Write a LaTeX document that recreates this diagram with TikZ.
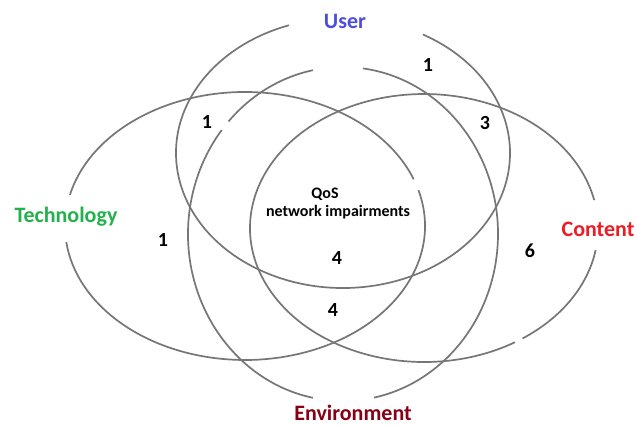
\documentclass[tikz,border=0pt]{standalone}
\usepackage{fontspec}
\setmainfont{Carlito}
\definecolor{ringgray}{RGB}{118,118,118}
\definecolor{userblue}{RGB}{78,78,218}
\definecolor{techgreen}{RGB}{34,177,76}
\definecolor{contentred}{RGB}{237,28,36}
\definecolor{envred}{RGB}{136,0,21}
\begin{document}
\begin{tikzpicture}[x=1pt,y=-1pt,
  ring/.style={draw=ringgray,line width=1.7pt},
  setlabel/.style={font=\fontsize{22}{26}\selectfont\bfseries,inner sep=0pt,anchor=base},
  count/.style={font=\fontsize{20}{24}\selectfont\bfseries,inner sep=0pt,text=black},
  core/.style={font=\fontsize{16}{19}\selectfont\bfseries,inner sep=0pt,anchor=base,text=black}]
\useasboundingbox (0,0) rectangle (637,424);
\fill[white] (0,0) rectangle (637,424);

% User ring (open at the top)
\draw[ring] (343,153) ++(-61.4:167 and 135)
  arc[start angle=-61.4,end angle=251.1,x radius=167,y radius=135];

% Environment ring (open at top and bottom)
\draw[ring] (343,234) ++(-82.6:155 and 167)
  arc[start angle=-82.6,end angle=78.5,x radius=155,y radius=167];
\draw[ring] (343,234) ++(101.2:155 and 167)
  arc[start angle=101.2,end angle=218.5,x radius=155,y radius=167];
\draw[ring] (343,234) ++(222.4:155 and 167)
  arc[start angle=222.4,end angle=258.8,x radius=155,y radius=167];

% Technology ring (open on the left)
\draw[ring] (245,226) ++(-15.5:180 and 134)
  arc[start angle=-15.5,end angle=173.1,x radius=180,y radius=134];
\draw[ring] (245,226) ++(193.4:180 and 134)
  arc[start angle=193.4,end angle=339.6,x radius=180,y radius=134];

% Content ring (open on the right)
\draw[ring] (424,228) ++(9.5:174 and 134)
  arc[start angle=9.5,end angle=55.5,x radius=174,y radius=134];
\draw[ring] (424,228) ++(58.5:174 and 134)
  arc[start angle=58.5,end angle=348,x radius=174,y radius=134];

% Set names
\node[setlabel,text=userblue] (user) at (345,28) {User};
\node[setlabel,text=techgreen] (tech) at (66,222) {Technology};
\node[setlabel,text=contentred] (content) at (598,236) {Content};
\node[setlabel,text=envred] (env) at (353,420) {Environment};

% Core
\node[core] (qos) at (325,198) {QoS};
\node[core] (impair) at (338,216) {network impairments};

% Counts per region
\node[count] (nUser) at (428,65) {1};
\node[count] (nUserTech) at (207,122) {1};
\node[count] (nUserCont) at (485,123) {3};
\node[count] (nTech) at (163,240) {1};
\node[count] (nCont) at (530,251) {6};
\node[count] (nCore) at (337,258) {4};
\node[count] (nEnv) at (333,310) {4};
\end{tikzpicture}
\end{document}
